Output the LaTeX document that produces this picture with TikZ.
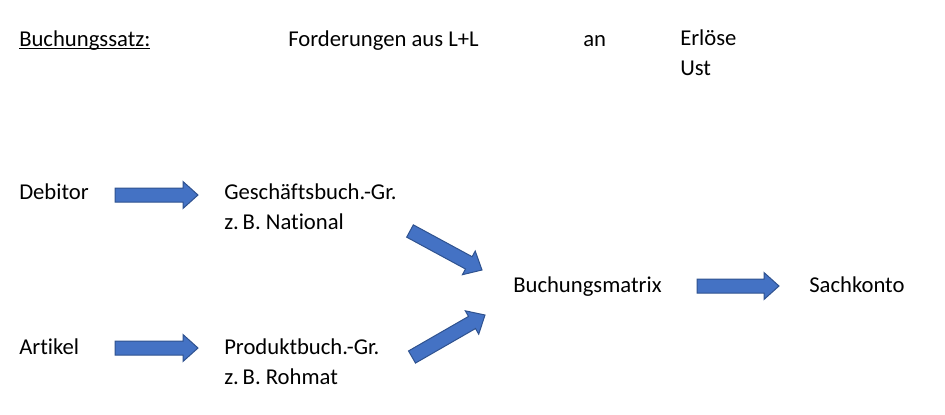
\documentclass[tikz,border=0pt]{standalone}
\usepackage{fontspec}
\setmainfont{Carlito}[Ligatures=NoCommon]
\usetikzlibrary{calc}

\definecolor{pfeilblau}{HTML}{4472C4}
\definecolor{pfeilrand}{HTML}{2F528F}

\tikzset{
  txt/.style={anchor=base west,inner sep=0pt,align=left,font=\fontsize{17}{22.5}\selectfont},
  blockpfeil/.style={fill=pfeilblau,draw=pfeilrand,line width=0.75pt,line join=miter}
}

% block arrow from #1 to #2 (shaft 7px, head 13.5px, head length 15px)
\newcommand{\blockpfeil}[2]{%
  \coordinate (bp-b) at ($(#2)!11.25pt!(#1)$);
  \draw[blockpfeil] ($(#1)!5.25pt!90:(#2)$) -- ($(bp-b)!5.25pt!-90:(#1)$) -- ($(bp-b)!10.1pt!-90:(#1)$) -- (#2)
    -- ($(bp-b)!10.1pt!90:(#1)$) -- ($(bp-b)!5.25pt!90:(#1)$) -- ($(#1)!5.25pt!-90:(#2)$) -- cycle;}

\begin{document}
\begin{tikzpicture}[x=0.75pt,y=0.75pt,yscale=-1,xscale=1]
\useasboundingbox (0,0) rectangle (945,414);

% Text Nodes (base = last line)
\node[txt] (satz) at (19,46) {\underline{\smash{Buchungssatz:}}};
\node[txt] (ford) at (288,46) {Forderungen aus L+L};
\node[txt] (an) at (583,46) {an};
\node[txt] (erl) at (680,75) {Erlöse\\Ust};

\node[txt] (deb) at (19,199) {Debitor};
\node[txt] (gbg) at (224,229) {Geschäftsbuch.-Gr.\\z.\,B. National};
\node[txt] (art) at (19,354) {Artikel};
\node[txt] (pbg) at (224,384) {Produktbuch.-Gr.\\z.\,B. Rohmat};
\node[txt] (matrix) at (513,292) {Buchungsmatrix};
\node[txt] (sach) at (809,292) {Sachkonto};

% Arrow ends
\coordinate (deb-a) at (115,195);
\coordinate (deb-b) at (198,195);
\coordinate (art-a) at (115,348);
\coordinate (art-b) at (198,348);
\coordinate (gbg-a) at (410,231);
\coordinate (gbg-b) at (482,270);
\coordinate (pbg-a) at (412,357);
\coordinate (pbg-b) at (485,315);
\coordinate (mat-a) at (697,286);
\coordinate (mat-b) at (779,286);

% Block Arrows
\blockpfeil{deb-a}{deb-b}
\blockpfeil{art-a}{art-b}
\blockpfeil{gbg-a}{gbg-b}
\blockpfeil{pbg-a}{pbg-b}
\blockpfeil{mat-a}{mat-b}

\end{tikzpicture}
\end{document}
